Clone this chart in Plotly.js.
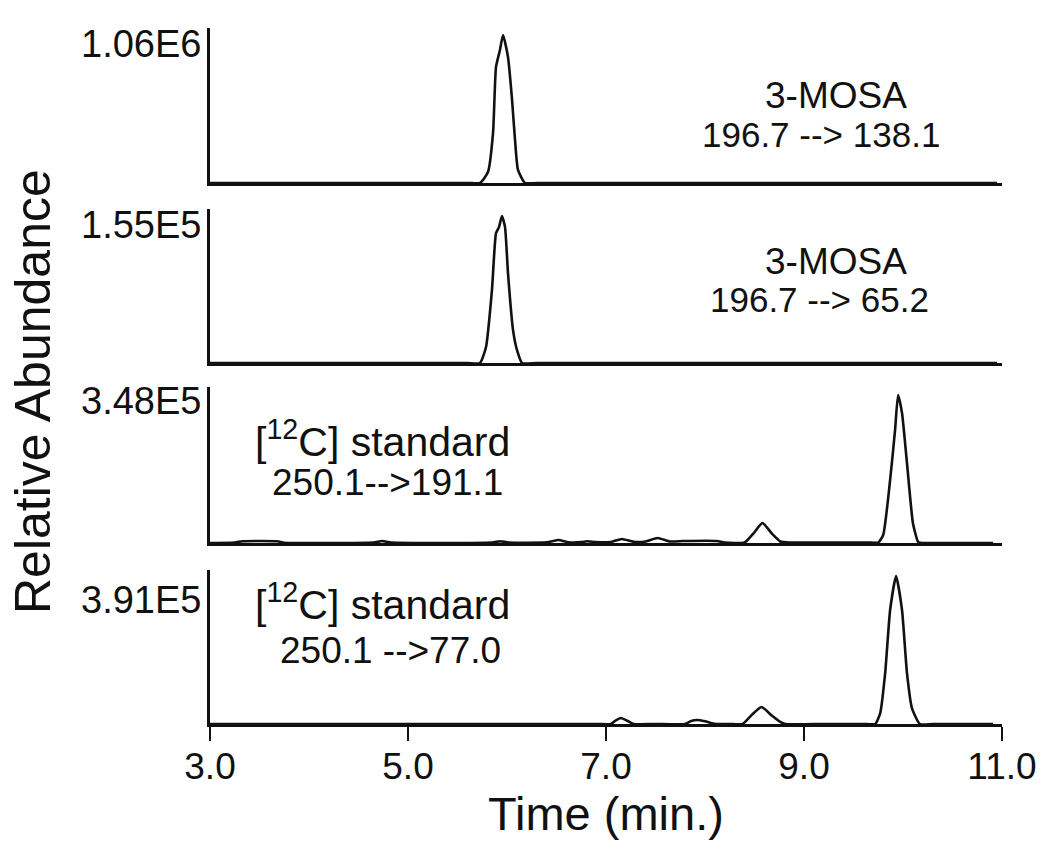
<!DOCTYPE html>
<html>
<head>
<meta charset="utf-8">
<script src="https://cdn.plot.ly/plotly-3.0.1.min.js"></script>
<style>html,body{margin:0;padding:0;background:#fff;}#chart{width:1050px;height:857px;}</style>
</head>
<body>
<div id="chart"></div>
<script>
// Panel 1: 3-MOSA 196.7 --> 138.1 (peak = 1.06E6), relative %
var time1 = [3.0, 4.5, 5.6, 5.727, 5.808, 5.859, 5.889, 5.929, 5.960, 6.010, 6.051, 6.081, 6.111, 6.182, 6.3, 8.5, 10.95];
var abund1 = [0, 0, 0, 0, 7.4, 33.8, 78.4, 89.9, 100, 85.1, 56.1, 29.1, 8.8, 0, 0, 0, 0];

// Panel 2: 3-MOSA 196.7 --> 65.2 (peak = 1.55E5)
var time2 = [3.0, 4.5, 5.6, 5.727, 5.788, 5.848, 5.889, 5.919, 5.949, 5.980, 6.010, 6.061, 6.101, 6.152, 6.3, 8.5, 10.95];
var abund2 = [0, 0, 0, 0, 10.9, 49.7, 88.4, 92.5, 100, 92.5, 61.2, 22.4, 8.8, 0, 0, 0, 0];

// Panel 3: [12C] standard 250.1-->191.1 (peak = 3.48E5)
var time3 = [3.0, 3.25, 3.33, 3.68, 3.75, 4.65, 4.74, 4.83, 5.85, 5.93, 6.02, 6.40, 6.52, 6.62, 6.75, 6.81, 6.90,
             7.05, 7.16, 7.28, 7.40, 7.52, 7.65, 7.78, 8.12, 8.20, 8.40, 8.49, 8.58, 8.68, 8.76, 8.86, 9.3,
             9.65, 9.75, 9.80, 9.87, 9.92, 9.95, 9.99, 10.04, 10.10, 10.15, 10.17, 10.3, 10.6, 10.91];
var abund3 = [0, 0.3, 1.2, 1.2, 0.2, 0.3, 1.3, 0.3, 0.3, 1.2, 0.3, 0.4, 2.0, 0.5, 0.6, 1.2, 0.6,
              0.7, 2.7, 0.8, 1.0, 3.4, 1.0, 1.3, 1.3, 0.3, 0.3, 6.5, 13.5, 6.0, 1.0, 0.3, 0.3,
              0.3, 0.3, 5.4, 42.6, 76.4, 100, 87.8, 54.1, 13.5, 1.0, 0.2, 0, 0, 0];

// Panel 4: [12C] standard 250.1 -->77.0 (peak = 3.91E5)
var time4 = [3.0, 5.0, 6.9, 7.05, 7.10, 7.15, 7.22, 7.28, 7.50, 7.80, 7.86, 7.92, 8.00, 8.07, 8.12, 8.25, 8.38, 8.47, 8.57, 8.67, 8.76, 8.81,
             9.2, 9.6, 9.72, 9.77, 9.82, 9.87, 9.93, 9.99, 10.04, 10.09, 10.17, 10.3, 10.6, 10.91];
var abund4 = [0, 0, 0, 0, 2.5, 4.1, 2.0, 0, 0, 0, 2.0, 2.7, 1.8, 0.5, 0, 0, 0, 6.0, 11.5, 6.0, 1.4, 0,
              0, 0, 0, 7.4, 34.5, 77.0, 100, 77.0, 34.5, 10.8, 0, 0, 0, 0];

var maxLabels = ["1.06E6", "1.55E5", "3.48E5", "3.91E5"];
var nameLabels = ["3-MOSA", "3-MOSA", "[<sup>12</sup>C] standard", "[<sup>12</sup>C] standard"];
var transLabels = ["196.7 --\u003E 138.1", "196.7 --\u003E 65.2", "250.1--\u003E191.1", "250.1 --\u003E77.0"];
var xTickVals = [3, 5, 7, 9, 11];
var xTickText = ["3.0", "5.0", "7.0", "9.0", "11.0"];

var FONT = "Liberation Sans, Arial, sans-serif";
var times = [time1, time2, time3, time4];
var abunds = [abund1, abund2, abund3, abund4];

var data = [];
for (var i = 0; i < 4; i++) {
  data.push({
    x: times[i], y: abunds[i], type: "scatter", mode: "lines",
    xaxis: i === 0 ? "x" : "x" + (i + 1),
    yaxis: i === 0 ? "y" : "y" + (i + 1),
    line: {color: "#111", width: 2.6, shape: "spline", smoothing: 0.5},
    hoverinfo: "skip", showlegend: false
  });
}

var domains = [[0.7773, 1.0], [0.5187, 0.7399], [0.2601, 0.4842], [0.0, 0.2213]];
var yTops = [104.7, 104.8, 105.4, 104.05];

var layout = {
  width: 1050, height: 857,
  margin: {l: 210, r: 48, t: 28, b: 133},
  paper_bgcolor: "#fff", plot_bgcolor: "#fff",
  font: {family: FONT, color: "#111"},
  showlegend: false,
  annotations: []
};

for (var j = 0; j < 4; j++) {
  var xk = j === 0 ? "xaxis" : "xaxis" + (j + 1);
  var yk = j === 0 ? "yaxis" : "yaxis" + (j + 1);
  var isBottom = (j === 3);
  layout[xk] = {
    anchor: j === 0 ? "y" : "y" + (j + 1),
    domain: [0, 1],
    range: [3, 11],
    showline: true, linecolor: "#111", linewidth: 3,
    showgrid: false, zeroline: false,
    ticks: isBottom ? "outside" : "",
    ticklen: 14, tickwidth: 2.5, tickcolor: "#111",
    tickvals: xTickVals, ticktext: xTickText,
    showticklabels: isBottom,
    ticklabelstandoff: -6,
    tickfont: {family: FONT, size: 37, color: "#111"},
    fixedrange: true
  };
  if (isBottom) {
    layout[xk].title = {text: "Time (min.)", font: {family: FONT, size: 47, color: "#111"}, standoff: 0};
  }
  layout[yk] = {
    anchor: j === 0 ? "x" : "x" + (j + 1),
    domain: domains[j],
    range: [0, yTops[j]],
    showline: true, linecolor: "#111", linewidth: 3,
    showgrid: false, zeroline: false,
    ticks: "", showticklabels: false,
    fixedrange: true
  };
}

var maxLabelY = [0.9770, 0.7170, 0.4640, 0.1782];
var nameX = [0.7904, 0.7904, 0.2172, 0.2172];
var nameY = [0.9037, 0.6638, 0.4095, 0.1753];
var transX = [0.7715, 0.7702, 0.2247, 0.2273];
var transY = [0.8463, 0.6092, 0.3477, 0.1049];
var nameSize = [37, 37, 41, 41];
var transSize = [35, 35, 37, 37];

for (var k = 0; k < 4; k++) {
  layout.annotations.push({
    xref: "paper", yref: "paper", x: -0.0088, y: maxLabelY[k],
    xanchor: "right", yanchor: "middle", showarrow: false,
    text: maxLabels[k], font: {family: FONT, size: 38, color: "#111"}
  });
  layout.annotations.push({
    xref: "paper", yref: "paper", x: nameX[k], y: nameY[k],
    xanchor: "center", yanchor: "middle", showarrow: false,
    text: nameLabels[k], font: {family: FONT, size: nameSize[k], color: "#111"}
  });
  layout.annotations.push({
    xref: "paper", yref: "paper", x: transX[k], y: transY[k],
    xanchor: "center", yanchor: "middle", showarrow: false,
    text: transLabels[k], font: {family: FONT, size: transSize[k], color: "#111"}
  });
}

layout.annotations.push({
  xref: "paper", yref: "paper", x: (33 - 210) / 792, y: (724 - 392) / 696,
  xanchor: "center", yanchor: "middle", showarrow: false, textangle: -90,
  text: "Relative Abundance", font: {family: FONT, size: 50, color: "#111"}
});

Plotly.newPlot("chart", data, layout, {staticPlot: true, displayModeBar: false});
</script>
</body>
</html>
